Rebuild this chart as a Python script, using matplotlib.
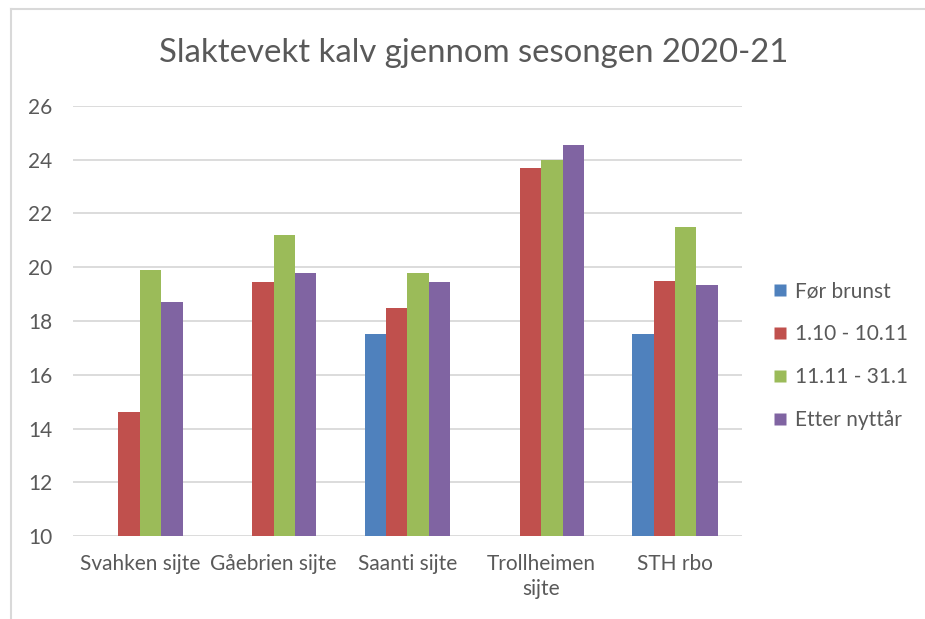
import matplotlib
matplotlib.use("Agg")
import matplotlib.pyplot as plt
import numpy as np
from matplotlib.lines import Line2D

plt.rcParams['font.family'] = ['Lato', 'DejaVu Sans']

categories = ["Svahken sijte", "Gåebrien sijte", "Saanti sijte", "Trollheimen\nsijte", "STH rbo"]
series_names = ["Før brunst", "1.10 - 10.11", "11.11 - 31.1", "Etter nyttår"]
for_brunst = [np.nan, np.nan, 17.5, np.nan, 17.5]
okt_nov = [14.6, 19.45, 18.5, 23.7, 19.5]
nov_jan = [19.9, 21.2, 19.8, 24.0, 21.5]
etter_nyttar = [18.7, 19.8, 19.45, 24.55, 19.35]
colors = ["#4F81BD", "#C0504D", "#9BBB59", "#8064A2"]
title = "Slaktevekt kalv gjennom sesongen 2020-21"
yticks = [10, 12, 14, 16, 18, 20, 22, 24, 26]

text_color = "#595959"
fig = plt.figure(figsize=(9.25, 6.19), dpi=100)
ax = fig.add_axes([0.0789, 0.134, 0.7232, 0.695])

values = [for_brunst, okt_nov, nov_jan, etter_nyttar]
x = np.arange(len(categories))
w = 0.16
for i, (vals, col, name) in enumerate(zip(values, colors, series_names)):
    v = np.array(vals, dtype=float)
    ax.bar(x + (i - 1.5) * w, v - 10, bottom=10, width=w, color=col, label=name,
           zorder=3, edgecolor='none')

ax.set_xlim(-0.5, len(categories) - 0.5)
ax.set_ylim(10, 26)
ax.set_yticks(yticks)
ax.set_yticklabels([str(t) for t in yticks])
ax.set_xticks(x)
ax.set_xticklabels(categories, linespacing=1.3)
ax.grid(axis='y', color="#D9D9D9", linewidth=1.3, zorder=0)
ax.set_axisbelow(True)
for s in ax.spines.values():
    s.set_visible(False)
ax.tick_params(axis='both', length=0, labelsize=15, colors=text_color)
ax.tick_params(axis='y', pad=15)
ax.tick_params(axis='x', pad=13)

fig.text(0.512, 0.915, title, ha='center', va='center', fontsize=23.7, color=text_color)

handles = [Line2D([0], [0], marker='s', linestyle='none', markersize=9,
                  markerfacecolor=c, markeredgecolor='none') for c in colors]
fig.legend(handles, series_names, loc='upper left', bbox_to_anchor=(0.827, 0.559),
           frameon=False, fontsize=15, labelcolor=text_color, handlelength=0.6,
           handletextpad=0.45, labelspacing=1.1, borderaxespad=0)

# chart frame (top and left edges visible)
fig.add_artist(Line2D([0.012, 0.012], [0, 0.986], transform=fig.transFigure,
                      color="#D9D9D9", linewidth=1.5))
fig.add_artist(Line2D([0.012, 1.0], [0.986, 0.986], transform=fig.transFigure,
                      color="#D9D9D9", linewidth=1.5))

fig.savefig("out.png", dpi=100)
